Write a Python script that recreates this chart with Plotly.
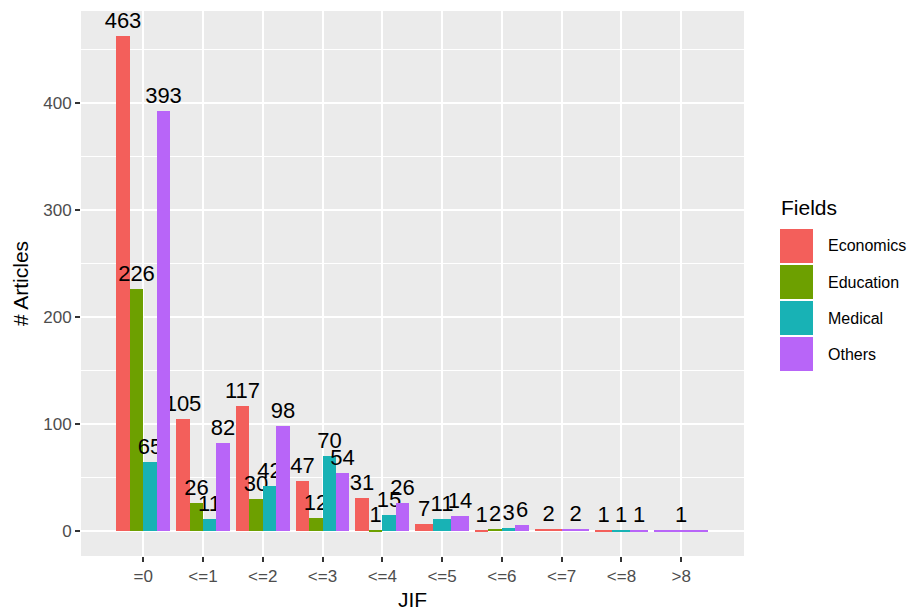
import plotly.graph_objects as go

categories = ["=0", "<=1", "<=2", "<=3", "<=4", "<=5", "<=6", "<=7", "<=8", ">8"]
fields = ["Economics", "Education", "Medical", "Others"]
economics = [463, 105, 117, 47, 31, 7, 1, 2, 1, None]
education = [226, 26, 30, 12, 1, None, 2, None, None, None]
medical = [65, 11, 42, 70, 15, 11, 3, None, 1, None]
others = [393, 82, 98, 54, 26, 14, 6, 2, 1, 1]
colors = ["#F35F5B", "#6DA000", "#18B2B5", "#B865F8"]

series = [economics, education, medical, others]

# ggplot-style dodge: bars share 0.9 of category width among present fields
xs = {f: [] for f in fields}
ys = {f: [] for f in fields}
ws = {f: [] for f in fields}
for i, cat in enumerate(categories):
    present = [f for f, s in zip(fields, series) if s[i] is not None]
    n = len(present)
    w = 0.9 / n
    for k, f in enumerate(present):
        val = series[fields.index(f)][i]
        xs[f].append(i - 0.45 + w * (k + 0.5))
        ys[f].append(val)
        ws[f].append(w)

FONT = "Liberation Sans"

fig = go.Figure()
for f, c in zip(fields, colors):
    fig.add_trace(go.Bar(
        x=xs[f], y=ys[f], width=ws[f], name=f,
        marker=dict(color=c, line=dict(width=0)),
        text=[str(v) for v in ys[f]], textposition="outside",
        constraintext="none", cliponaxis=False,
        textfont=dict(color="black", size=22, family=FONT),
        showlegend=False,
    ))

OFF = 8  # page body margin
W, H = 917 - OFF, 612 - OFF
L, T = 81 - OFF, 11 - OFF
pw, ph = 663, 545
R, B = W - L - pw, H - T - ph

def px2paper(x, y):
    # x, y are target-picture pixel coordinates
    return (x - OFF - L) / pw, (T + ph - (y - OFF)) / ph

# manual ggplot-like legend
tx, ty = px2paper(779, 208)
fig.add_annotation(x=tx, y=ty, xref="paper", yref="paper", text="Fields",
                   showarrow=False, xanchor="left", yanchor="middle",
                   font=dict(size=21, color="black", family=FONT))
for k, (f, c) in enumerate(zip(fields, colors)):
    top = 229 + 36 * k
    x0, y1 = px2paper(780, top)
    x1, y0 = px2paper(813, top + 34)
    fig.add_shape(type="rect", xref="paper", yref="paper", x0=x0, x1=x1, y0=y0, y1=y1,
                  fillcolor=c, line=dict(width=0))
    lx, ly = px2paper(826, top + 17)
    fig.add_annotation(x=lx, y=ly, xref="paper", yref="paper", text=f,
                       showarrow=False, xanchor="left", yanchor="middle",
                       font=dict(size=16, color="black", family=FONT))

fig.update_layout(
    width=W, height=H,
    margin=dict(l=L, r=R, t=T, b=B, autoexpand=False),
    paper_bgcolor="white", plot_bgcolor="#EBEBEB",
    barmode="overlay", bargap=0,
    font=dict(family=FONT, color="black"),
    xaxis=dict(
        range=[-1.04, 10.05], tickmode="array",
        tickvals=list(range(len(categories))), ticktext=categories,
        showgrid=True, gridcolor="white", gridwidth=2,
        zeroline=False, ticks="outside", ticklen=5, tickwidth=1.5, tickcolor="#333333",
        tickfont=dict(size=17, color="#4D4D4D", family=FONT),
        title=dict(text="JIF", font=dict(size=21, color="black", family=FONT), standoff=6),
        automargin=False,
    ),
    yaxis=dict(
        range=[-23.15, 486.15], tickmode="array", tickvals=[0, 100, 200, 300, 400],
        showgrid=True, gridcolor="white", gridwidth=2,
        minor=dict(tickmode="array", tickvals=[50, 150, 250, 350, 450],
                   showgrid=True, gridcolor="white", gridwidth=1, ticks=""),
        zeroline=False, ticks="outside", ticklen=5, tickwidth=1.5, tickcolor="#333333",
        tickfont=dict(size=17, color="#4D4D4D", family=FONT),
        title=dict(text="# Articles", font=dict(size=21, color="black", family=FONT), standoff=8),
        automargin=False,
    ),
)

fig.write_html("out.html")
